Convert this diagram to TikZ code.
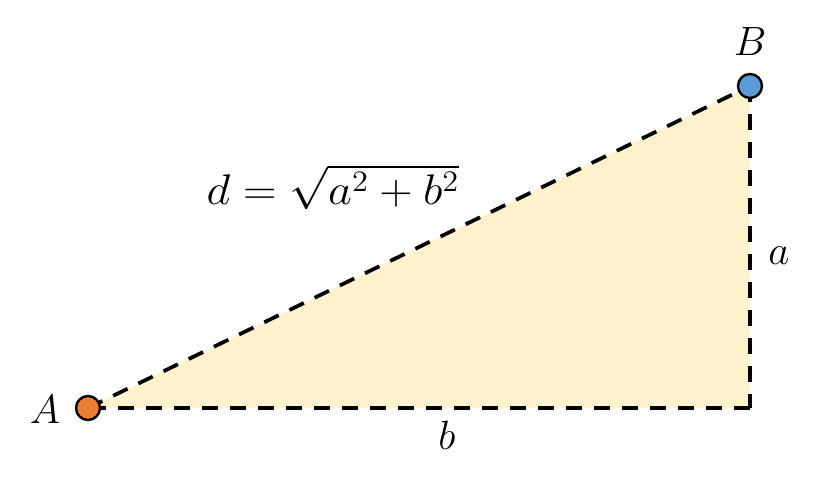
\documentclass[tikz,border=0pt]{standalone}
\usepackage{amsmath}
\definecolor{fillc}{HTML}{FFF2CC}
\definecolor{orangec}{HTML}{ED7D31}
\definecolor{bluec}{HTML}{5B9BD5}
\begin{document}
\begin{tikzpicture}[x=0.75pt,y=-0.75pt,
  edge/.style={line width=2.8pt,dash pattern=on 12pt off 9pt},
  pt/.style={circle,draw=black,line width=1.8pt,minimum size=18pt,inner sep=0pt},
  lbl/.style={font=\huge,scale=1.48,inner sep=0pt}]
\useasboundingbox (0,0) rectangle (816,479);
\coordinate (A) at (88,408);
\coordinate (B) at (750,86);
\coordinate (C) at (750,408);
\fill[fillc] (A) -- (B) -- (C) -- cycle;
\draw[edge] (A) -- (B);
\draw[edge] (B) -- (C);
\draw[edge] (C) -- (A);
\node[pt,fill=orangec] (pA) at (A) {};
\node[pt,fill=bluec] (pB) at (B) {};
\node[lbl] (lA) at (45,410) {$A$};
\node[lbl] (lB) at (750,42) {$B$};
\node[lbl] (la) at (779,256) {$a$};
\node[lbl] (lb) at (447,435) {$b$};
\node[font=\huge,inner sep=0pt,xscale=1.68,yscale=1.55] (ld) at (333,187) {$d=\sqrt{a^2+b^2}$};
\end{tikzpicture}
\end{document}
